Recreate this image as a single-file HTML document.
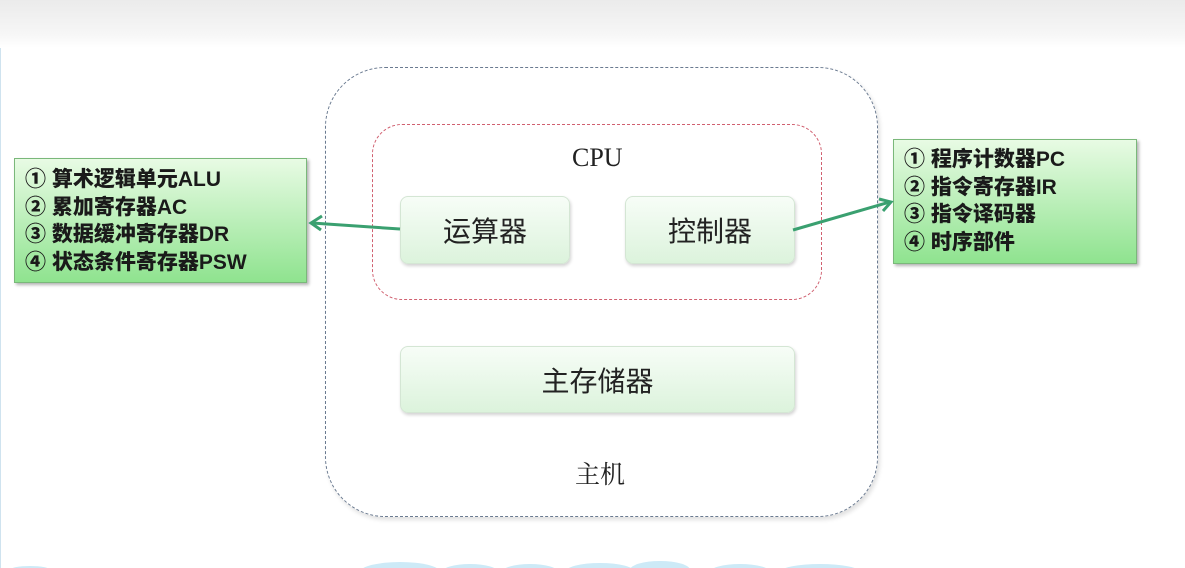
<!DOCTYPE html><html><head><meta charset="utf-8"><style>
body{margin:0;width:1185px;height:568px;position:relative;background:#fff;overflow:hidden;font-family:"Liberation Serif","Noto Serif CJK SC",serif}
.top{position:absolute;left:0;top:0;width:1185px;height:48px;background:linear-gradient(#ebebeb,#f6f6f6 70%,#fff)}
.b{position:absolute;border-radius:8px;background:linear-gradient(#f7fdf7,#dcf3dc);border:1px solid #d4e6d4;box-shadow:1px 2px 3px rgba(0,0,0,.18);display:flex;align-items:center;justify-content:center;font-size:28px;color:#222;font-family:"Liberation Sans","Noto Sans CJK SC",sans-serif}
.g{position:absolute;background:linear-gradient(#e8fbe4,#8fe38f);border:1px solid #7ab87a;box-shadow:2px 2px 3px rgba(0,0,0,.3);font-family:"Liberation Sans","Noto Sans CJK SC",sans-serif;font-weight:900;font-size:21px;line-height:27.5px;color:#1a1a1a;padding:7px 10px;box-sizing:border-box;white-space:nowrap}
.t{position:absolute;font-size:26px;color:#222}
</style></head><body>
<div class="top"></div>
<div style="position:absolute;left:0;top:48px;width:1px;height:520px;background:#cfe3ef"></div>
<div style="position:absolute;left:325px;top:67px;width:553px;height:450px;border:1.5px dashed #6a7a90;border-radius:60px;box-sizing:border-box;box-shadow:2px 3px 4px rgba(0,0,0,.12)"></div>
<div style="position:absolute;left:372px;top:124px;width:450px;height:176px;border:1.5px dashed #d06070;border-radius:30px;box-sizing:border-box"></div>
<div class="t" style="left:572px;top:143px">CPU</div>
<div class="b" style="left:400px;top:196px;width:168px;height:66px">运算器</div>
<div class="b" style="left:625px;top:196px;width:168px;height:66px">控制器</div>
<div class="b" style="left:400px;top:346px;width:393px;height:65px">主存储器</div>
<div class="t" style="left:575px;top:455px;font-family:'Noto Serif CJK SC',serif;font-size:25px">主机</div>
<div class="g" style="left:14px;top:158px;width:293px;height:125px">① 算术逻辑单元ALU<br>② 累加寄存器AC<br>③ 数据缓冲寄存器DR<br>④ 状态条件寄存器PSW</div>
<div class="g" style="left:893px;top:139px;width:244px;height:125px;padding-top:6px">① 程序计数器PC<br>② 指令寄存器IR<br>③ 指令译码器<br>④ 时序部件</div>
<svg style="position:absolute;left:0;top:0" width="1185" height="568">
<g stroke="#3aa070" stroke-width="3" fill="none">
<line x1="400" y1="229" x2="312" y2="223"/><polyline points="322,216 311,223 321,230"/>
<line x1="793" y1="230" x2="890" y2="202"/><polyline points="879,199 891,202 883,211"/>
</g>
<g fill="#cdeaf7">
<ellipse cx="400" cy="572" rx="40" ry="10"/><ellipse cx="470" cy="572" rx="28" ry="8"/><ellipse cx="530" cy="572" rx="28" ry="8"/><ellipse cx="600" cy="572" rx="35" ry="9"/><ellipse cx="660" cy="570" rx="30" ry="9"/><ellipse cx="740" cy="572" rx="30" ry="8"/><ellipse cx="820" cy="572" rx="40" ry="8"/><ellipse cx="30" cy="570" rx="20" ry="4"/>
</g></svg>
</body></html>
